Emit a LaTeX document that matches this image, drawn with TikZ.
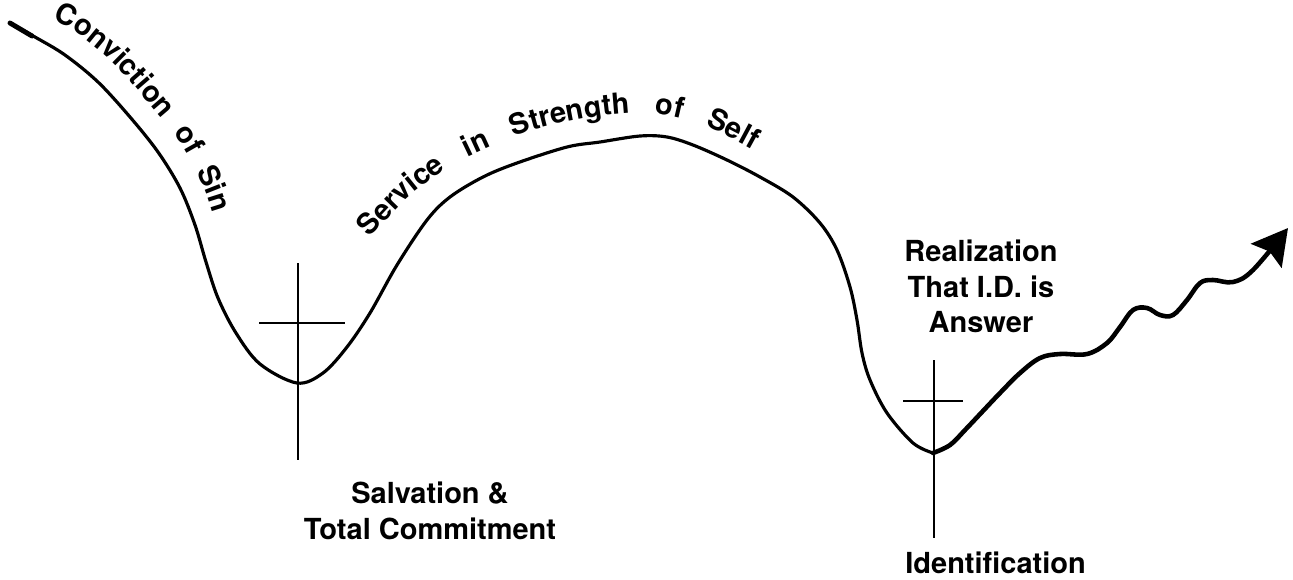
\documentclass[tikz,border=0pt]{standalone}
\usepackage{fontspec}
\setmainfont{TeX Gyre Heros}
\usetikzlibrary{decorations.text, arrows.meta}

\begin{document}
\begin{tikzpicture}[x=0.02cm, y=-0.02cm,
  journey/.style={line width=1.8pt, line cap=round, line join=round},
  growth/.style={line width=2.6pt, line cap=round, -{Stealth[length=20pt, width=22pt, inset=3pt]}},
  crossbar/.style={line width=1.1pt},
  lbl/.style={font=\bfseries\fontsize{16.5}{20}\selectfont, align=center, inner sep=0pt}]

  \useasboundingbox (0,0) rectangle (1293,579);

  % valleys
  \coordinate (sav) at (297,383);
  \coordinate (idn) at (933,453);

  % the road down, up and down again
  \draw[line width=2.8pt, line cap=round] (10,23) -- (32,36);
  \draw[journey] plot[smooth, tension=0.55] coordinates {(10,23) (35,37) (65,55) (98,82) (130,117)
    (158,152) (180,188) (195,225) (206,262) (218,298) (236,333) (260,364) (sav) (323,373) (347,347)
    (370,313) (397,265) (427,220) (450,197) (483,177) (517,163) (567,147) (600,142) (640,136)
    (667,137) (693,145) (727,160) (760,177) (793,197) (820,223) (837,250) (850,287) (857,320)
    (862,353) (870,380) (887,413) (913,443) (idn)};

  % wavy way out
  \draw[growth] plot[smooth, tension=0.6] coordinates {(idn) (950,445) (965,430) (982,412)
    (1000,393) (1020,373) (1040,358) (1060,354) (1087,354) (1107,343) (1120,327) (1133,310)
    (1147,308) (1160,315) (1173,315) (1187,300) (1200,283) (1213,280) (1233,282) (1253,270)
    (1288,228)};

  % crosses
  \draw[crossbar] (298,263) -- (298,460);
  \draw[crossbar] (259,323) -- (345,323);
  \draw[crossbar] (934,360) -- (934,538);
  \draw[crossbar] (903,401) -- (963,401);

  % text on the curve
  \path[decorate, decoration={text along path,
      text={|\bfseries\fontsize{16.5}{20}\selectfont|Conviction{\hspace{10pt}}of{\hspace{10pt}}Sin}}]
    plot[smooth] coordinates {(52,20) (77,33) (113,63) (147,101) (180,142) (205,190) (218,232) (224,262)};
  \path[decorate, decoration={text along path,
      text={|\bfseries\fontsize{16.5}{20}\selectfont|Service{\hspace{14pt}}in{\hspace{14pt}}Strength{\hspace{14pt}}of{\hspace{14pt}}Self}}]
    plot[smooth] coordinates {(370,238) (408,198) (448,168) (490,147) (530,131) (580,119) (630,113)
      (670,116) (710,128) (760,154) (790,174)};

  \node[lbl, anchor=north] (salvation) at (430,482) {Salvation \&\\Total Commitment};
  \node[lbl, anchor=north] (realize) at (981,240) {Realization\\That I.D. is\\Answer};
  \node[lbl, anchor=north west] (ident) at (905,552) {Identification};
\end{tikzpicture}
\end{document}
